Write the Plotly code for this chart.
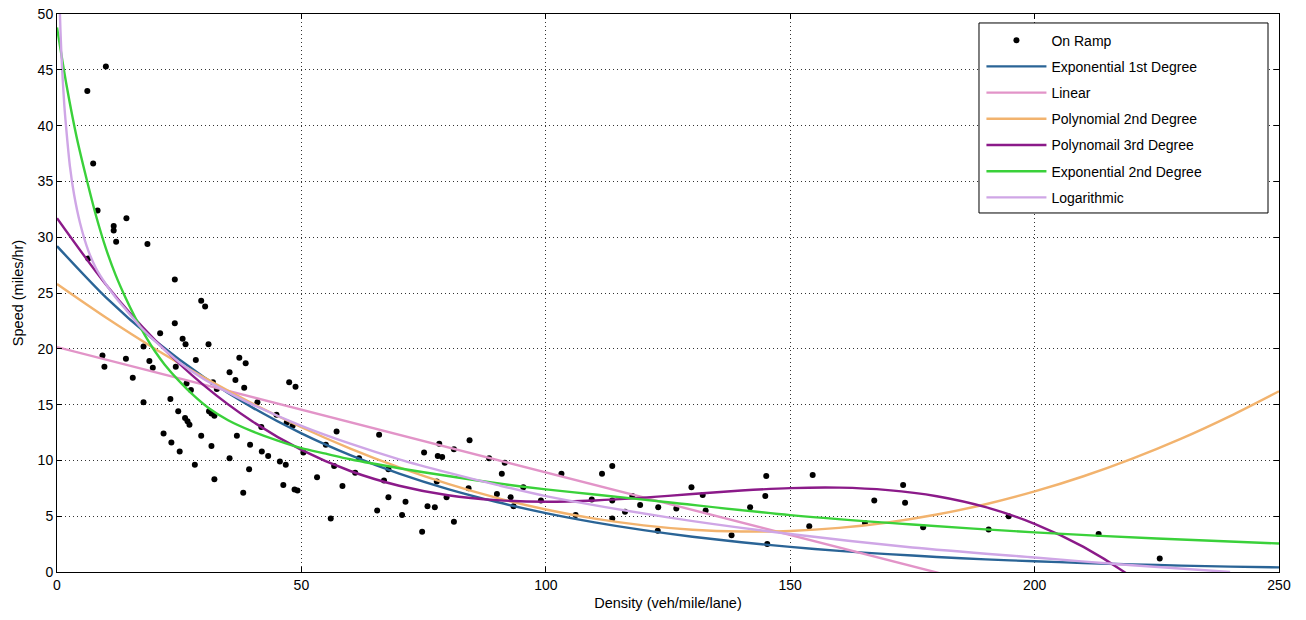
import plotly.graph_objects as go

# Measured on-ramp observations
density = [6.2, 10.0, 7.4, 8.3, 11.6, 11.6, 12.1, 14.2, 18.5, 24.1, 6.4, 24.1, 29.5, 30.3,
           31.0, 21.1, 25.7, 26.3, 9.3, 9.7, 14.1, 15.5, 17.7, 18.9, 19.6, 17.7, 28.4, 24.3,
           26.5, 27.4, 31.9, 32.7, 23.2, 24.8, 26.2, 26.7, 27.1, 21.8, 23.4, 25.1, 28.2, 29.5,
           31.6, 32.2, 31.1, 31.6, 32.2, 35.3, 36.5, 37.3, 38.6, 38.3, 41.0, 36.8, 35.3, 39.5,
           41.9, 43.2, 39.3, 38.1, 41.8, 44.9, 47.0, 48.2, 47.5, 48.8, 45.6, 46.8, 46.3, 48.6,
           49.2, 50.4, 53.2, 55.0, 56.0, 57.2, 56.7, 58.4, 61.8, 61.0, 65.9, 66.9, 67.8, 67.8,
           65.5, 71.3, 70.6, 75.1, 75.8, 77.3, 74.7, 78.2, 77.9, 78.8, 77.7, 81.2, 81.2, 84.4,
           84.2, 88.4, 91.0, 90.0, 91.6, 92.8, 93.4, 95.4, 99.0, 103.2, 106.1, 109.4, 111.5,
           113.6, 113.6, 113.6, 116.2, 117.7, 119.3, 123.0, 122.9, 126.7, 129.8, 132.1, 132.7,
           138.0, 141.8, 145.1, 144.9, 145.3, 153.9, 154.6, 165.3, 167.2, 173.1, 173.5, 177.2,
           190.6, 194.7, 213.1, 225.6, 79.7]
speed = [43.1, 45.3, 36.6, 32.4, 31.0, 30.6, 29.6, 31.7, 29.4, 26.2, 28.1, 22.3, 24.3, 23.8,
         20.4, 21.4, 20.9, 20.4, 19.4, 18.4, 19.1, 17.4, 20.2, 18.9, 18.3, 15.2, 19.0, 18.4,
         16.9, 16.3, 17.0, 16.4, 15.5, 14.4, 13.8, 13.5, 13.2, 12.4, 11.6, 10.8, 9.6, 12.2,
         11.3, 8.3, 14.4, 14.2, 14.0, 17.9, 17.2, 19.2, 18.7, 16.5, 15.2, 12.2, 10.2, 11.4,
         10.8, 10.4, 9.2, 7.1, 13.0, 14.1, 13.4, 13.1, 17.0, 16.6, 9.9, 9.6, 7.8, 7.4,
         7.3, 10.7, 8.5, 11.4, 4.8, 12.6, 9.5, 7.7, 10.2, 8.9, 12.3, 8.2, 9.2, 6.7,
         5.5, 6.3, 5.1, 10.7, 5.9, 5.8, 3.6, 11.5, 10.4, 10.3, 8.1, 11.0, 4.5, 11.8,
         7.5, 10.2, 8.8, 7.0, 9.8, 6.7, 5.9, 7.6, 6.4, 8.8, 5.1, 6.5, 8.8,
         9.5, 6.4, 4.8, 5.4, 6.8, 6.0, 5.8, 3.7, 5.7, 7.6, 6.9, 5.5,
         3.3, 5.8, 8.6, 6.8, 2.5, 4.1, 8.7, 4.4, 6.4, 7.8, 6.2, 4.0,
         3.8, 5.0, 3.4, 1.2, 6.7]

# Fitted speed-density curves, sampled along the density axis
fit_density = [0, 10, 20, 30, 40, 50, 60, 70, 80, 90, 100, 110, 120, 130, 140, 150,
               160, 170, 180, 190, 200, 210, 220, 230, 240, 250]
exp1_speed = [29.2, 24.61, 20.74, 17.48, 14.73, 12.42, 10.47, 8.82, 7.43, 6.27, 5.28, 4.45,
              3.75, 3.16, 2.67, 2.25, 1.89, 1.60, 1.35, 1.13, 0.96, 0.81, 0.68, 0.57, 0.48, 0.41]
poly2_speed = [25.8, 22.80, 20.01, 17.45, 15.10, 12.97, 11.06, 9.37, 7.89, 6.64, 5.60, 4.78,
               4.18, 3.79, 3.63, 3.68, 3.95, 4.44, 5.15, 6.07, 7.22, 8.58, 10.16, 11.95, 13.97, 16.2]

poly3_density = [0, 10, 20, 30, 40, 50, 60, 70, 80, 90, 100, 110, 120, 130, 140, 150, 160,
                 170, 180, 190, 200, 210, 220, 230]
poly3_speed = [31.7, 25.77, 20.81, 16.74, 13.48, 10.94, 9.05, 7.73, 6.88, 6.44, 6.30, 6.41,
               6.66, 6.99, 7.30, 7.52, 7.56, 7.34, 6.79, 5.81, 4.32, 2.25, -0.50, -3.99]

linear_density = [0, 250]
linear_speed = [20.15, -7.9]

exp2_density = [0, 2, 4, 6, 8, 10, 12, 14, 16, 18, 20, 22, 25, 28, 31, 35, 40, 45, 50, 55,
                60, 70, 80, 90, 100, 110, 125, 150, 175, 200, 225, 250]
exp2_speed = [48.8, 43.5, 39.0, 35.3, 31.9, 29.0, 26.6, 24.6, 22.8, 21.2, 19.8, 18.6, 17.1,
              15.8, 14.7, 13.6, 12.6, 11.8, 11.1, 10.6, 10.1, 9.3, 8.6, 7.95, 7.4, 6.95, 6.25,
              5.1, 4.25, 3.55, 3.0, 2.55]

log_density = [0.55, 0.7, 1, 1.5, 2, 2.66, 3.5, 4.7, 6.4, 8, 10, 12, 14.3, 17, 20, 25, 30,
               35, 40, 50, 60, 70, 80, 90, 100, 125, 150, 175, 200, 220, 240]
log_speed = [50.7, 48.6, 45.5, 41.8, 39.2, 36.3, 33.8, 31.3, 28.8, 27.2, 25.8, 24.6, 23.4,
             22.0, 20.7, 18.8, 17.3, 16.1, 15.0, 13.1, 11.5, 10.1, 8.9, 7.8, 6.8, 4.9, 3.4,
             2.2, 1.3, 0.6, 0.0]

FONT = "Liberation Sans, Arial, sans-serif"

fig = go.Figure()
fig.add_trace(go.Scatter(x=density, y=speed, mode="markers", name="On Ramp",
                         legendgroup="a",
                         marker=dict(color="black", size=6)))

curves = [
    ("Exponential 1st Degree", fit_density, exp1_speed, "#2a6496", "b"),
    ("Linear", linear_density, linear_speed, "#e294c8", "c"),
    ("Polynomial 2nd Degree", fit_density, poly2_speed, "#f2b36e", "d"),
    ("Polynomail 3rd Degree", poly3_density, poly3_speed, "#8b1a89", "e"),
    ("Exponential 2nd Degree", exp2_density, exp2_speed, "#3ad13a", "f"),
    ("Logarithmic", log_density, log_speed, "#cfa6e6", "g"),
]
for name, xs, ys, color, grp in curves:
    fig.add_trace(go.Scatter(x=xs, y=ys, mode="lines", name=name, legendgroup=grp,
                             line=dict(color=color, width=2.4, shape="spline",
                                       smoothing=0.8)))

axis_common = dict(
    showline=True, linecolor="black", linewidth=1, mirror="ticks",
    ticks="inside", ticklen=5, tickcolor="black",
    showgrid=True, gridcolor="#333333", griddash="1px,3px", gridwidth=1,
    zeroline=False, automargin=False,
    tickfont=dict(family=FONT, size=14, color="black"),
)

fig.update_xaxes(range=[0, 250], tickvals=[0, 50, 100, 150, 200, 250],
                 title=dict(text="Density (veh/mile/lane)", standoff=6,
                            font=dict(family=FONT, size=14.5, color="black")),
                 **axis_common)
fig.update_yaxes(range=[0, 50], tickvals=list(range(0, 51, 5)),
                 title=dict(text="Speed (miles/hr)", standoff=10,
                            font=dict(family=FONT, size=14.5, color="black")),
                 **axis_common)

# Legend frame: a white box with a black border, wider than the entries
fig.add_shape(type="rect", xref="paper", yref="paper",
              x0=0.7545, x1=0.991, y0=0.6434, y1=0.9839,
              fillcolor="white", line=dict(color="black", width=1), layer="above")

fig.update_layout(
    width=1306, height=620,
    margin=dict(l=57, r=27, t=14, b=48),
    paper_bgcolor="white", plot_bgcolor="white",
    font=dict(family=FONT, color="black"),
    legend=dict(x=0.7565, y=0.981, xanchor="left", yanchor="top",
                bgcolor="rgba(0,0,0,0)", borderwidth=0,
                font=dict(family=FONT, size=14, color="black"),
                tracegroupgap=5, itemwidth=60),
)

fig.write_html("out.html")
